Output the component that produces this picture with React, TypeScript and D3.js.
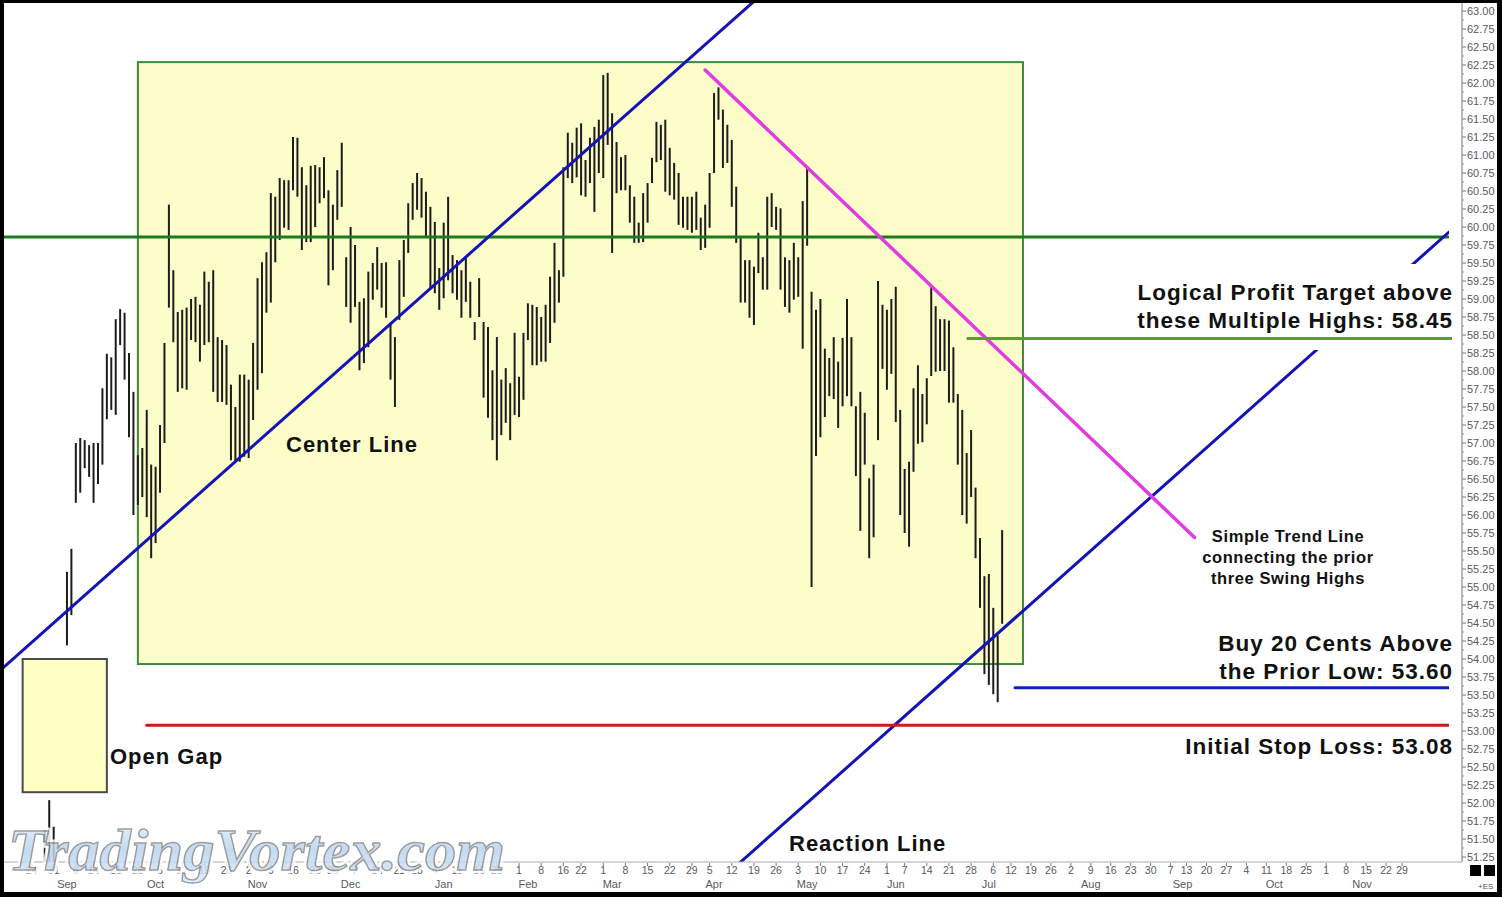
import React from "react";
import * as d3 from "d3";

// ---------- calendar data ----------
const HOLIDAYS = ["2009-09-07","2009-11-26","2009-12-25","2010-01-01","2010-01-18","2010-02-15","2010-04-02","2010-05-31","2010-07-05","2010-09-06","2010-11-25"];
const CAL_START = "2009-08-03";
const CAL_END = "2010-12-31";
const INDEX_BASE = "2010-02-01";

// weekly tick dates (label = day of month)
const WEEK_TICKS = ["2009-08-24","2009-08-31","2009-09-08","2009-09-14","2009-09-21","2009-09-28","2009-10-05","2009-10-12","2009-10-19","2009-10-26","2009-11-02","2009-11-09","2009-11-16","2009-11-23","2009-11-30","2009-12-07","2009-12-14","2009-12-21","2009-12-28","2010-01-04","2010-01-11","2010-01-19","2010-01-25","2010-02-01","2010-02-08","2010-02-16","2010-02-22","2010-03-01","2010-03-08","2010-03-15","2010-03-22","2010-03-29","2010-04-05","2010-04-12","2010-04-19","2010-04-26","2010-05-03","2010-05-10","2010-05-17","2010-05-24","2010-06-01","2010-06-07","2010-06-14","2010-06-21","2010-06-28","2010-07-06","2010-07-12","2010-07-19","2010-07-26","2010-08-02","2010-08-09","2010-08-16","2010-08-23","2010-08-30","2010-09-07","2010-09-13","2010-09-20","2010-09-27","2010-10-04","2010-10-11","2010-10-18","2010-10-25","2010-11-01","2010-11-08","2010-11-15","2010-11-22","2010-11-29"];
const MONTH_LABELS = ["Sep","Oct","Nov","Dec","Jan","Feb","Mar","Apr","May","Jun","Jul","Aug","Sep","Oct","Nov"];
const MONTH_LABEL_DATES = ["2009-09-03","2009-10-02","2009-11-04","2009-12-04","2010-01-06","2010-02-03","2010-03-03","2010-04-06","2010-05-05","2010-06-03","2010-07-02","2010-08-09","2010-09-10","2010-10-13","2010-11-12"];

// ---------- price bars ----------
const BAR_START = "2009-08-27";
const BAR_HIGH: (number | null)[] = [
  51.63, 52.04, 51.67, null, null, 55.21, 55.53,
  57.00, 57.07, 57.04, 56.97, 57.00, 57.00, 57.76, 58.24, 58.19, 58.72,
  58.86, 58.81, 58.25, 57.71, 56.83, 56.93, 57.46, 56.70, 56.67, 57.25,
  58.39, 60.31, 59.40, 58.82, 58.85, 58.88, 59.00, 59.03, 58.92, 59.38,
  59.24, 59.40, 58.47, 58.43, 58.36, 57.81, 57.50, 57.95, 57.95, 57.88,
  58.39, 59.29, 59.51, 59.65, 60.47, 60.42, 60.68, 60.65, 60.65, 61.25,
  61.24, 60.83, 60.58, 60.85, 60.86, 60.83, 60.97, 60.51, 60.31, 60.79,
  61.17, 59.58, 60.00, 59.75, 58.96, 59.01, 59.38, 59.50, 59.72, 59.50,
  59.51, 58.67, 58.47, 59.54, 59.82, 60.33, 60.61, 60.75, 60.68, 60.49,
  60.28, 60.07, 59.43, 60.06, 60.42, 59.61, 59.54, 59.40, 59.57, 59.24,
  58.68, 59.29, 58.68, 58.61, 58.01, 58.47, 57.88, 58.04, 57.83, 58.53,
  57.92, 58.53, 58.94, 58.92, 58.89, 58.75, 58.92, 59.31, 59.78, 59.40,
  60.83, 61.31, 61.17, 61.38, 61.44, 60.93, 61.24, 61.39, 61.49, 62.11,
  62.14, 61.58, 61.18, 60.97, 61.00, 60.58, 60.42, 60.06, 60.47, 60.61,
  60.96, 61.46, 61.42, 61.49, 61.10, 60.89, 60.75, 60.42, 60.42, 60.42,
  60.49, 60.13, 60.31, 60.75, 61.86, 61.94, 61.63, 61.42, 61.21, 60.56,
  59.86, 59.54, 59.54, 59.45, 59.92, 59.58, 60.42, 60.47, 60.28, 60.26,
  59.58, 59.54, 59.78, 59.58, 60.36, 60.81, 59.10, 58.85, 59.00, 58.31,
  58.18, 58.47, 58.13, 58.46, 59.00, 58.47, 57.51, 57.71, 57.42, 56.51,
  56.70, 59.25, 58.92, 58.85, 59.00, 59.17, 57.46, 56.64, 56.74, 57.76,
  58.08, 57.68, 57.90, 59.17, 58.90, 58.72, 58.72, 58.70, 58.33, 57.68,
  57.46, 56.86, 57.18, 56.38, 55.68, 55.15, 55.18, 54.71, 54.33, 55.79,
];
const BAR_LOW: (number | null)[] = [
  51.05, 51.10, 51.05, null, null, 54.19, 54.61,
  56.17, 56.31, 56.65, 56.53, 56.17, 56.43, 56.70, 57.33, 57.46, 57.39,
  58.36, 57.88, 57.08, 56.00, 56.14, 56.25, 55.97, 55.40, 55.61, 56.31,
  57.00, 58.88, 58.40, 57.71, 57.76, 57.74, 58.43, 58.40, 58.13, 58.36,
  58.40, 57.71, 57.57, 57.57, 57.53, 56.76, 56.74, 56.74, 56.81, 56.79,
  57.32, 57.74, 57.97, 58.81, 58.95, 59.51, 59.82, 59.99, 59.96, 60.51,
  60.42, 59.68, 59.79, 59.79, 60.00, 60.33, 60.40, 59.19, 59.40, 60.10,
  60.28, 58.89, 58.67, 58.89, 58.01, 58.11, 58.33, 58.99, 59.13, 58.88,
  58.74, 57.88, 57.50, 58.71, 59.03, 59.64, 60.10, 60.24, 60.13, 59.86,
  59.15, 59.08, 58.85, 59.01, 59.26, 59.08, 58.99, 58.74, 58.96, 58.74,
  58.43, 58.75, 57.63, 57.35, 57.04, 56.76, 57.11, 57.28, 57.04, 57.39,
  57.36, 57.60, 58.43, 58.08, 58.08, 58.13, 58.13, 58.39, 58.67, 58.95,
  59.31, 60.68, 60.61, 60.69, 60.44, 60.42, 60.61, 60.21, 60.75, 60.68,
  61.14, 59.64, 60.47, 60.51, 60.51, 60.06, 59.78, 59.78, 59.79, 60.06,
  60.61, 60.90, 60.93, 60.49, 60.44, 60.38, 60.03, 59.99, 59.96, 59.92,
  59.96, 59.68, 59.71, 59.99, 60.75, 61.49, 60.82, 60.89, 60.28, 59.78,
  58.95, 58.95, 58.74, 58.64, 59.36, 59.13, 59.13, 60.00, 59.96, 59.13,
  58.89, 58.81, 58.99, 59.03, 58.31, 59.74, 55.00, 56.82, 57.08, 57.36,
  57.65, 57.61, 57.21, 57.51, 57.65, 57.51, 56.54, 55.78, 56.70, 55.40,
  55.69, 57.04, 58.03, 57.74, 57.96, 57.29, 56.00, 55.75, 55.56, 56.60,
  56.99, 57.01, 57.26, 57.93, 57.99, 58.00, 58.00, 57.56, 57.56, 56.70,
  56.00, 55.88, 56.25, 55.40, 54.71, 53.79, 53.64, 53.51, 53.40, 54.49,
];

// ---------- annotations (date, price) ----------
const CENTER_LINE: [string, number][] = [["2009-09-28", 55.54], ["2010-03-25", 62.26]];
const REACTION_LINE: [string, number][] = [["2010-04-14", 51.18], ["2010-07-08", 54.41]];
const SWING_LINE: [string, number][] = [["2010-04-01", 62.18], ["2010-06-14", 59.24]];
const SWING_LINE_END = "2010-09-15";
const ZONE_BOX = { from: "2009-09-28", to: "2010-07-15", top: 62.29, bottom: 53.93 };
const GAP_BOX = { from: "2009-08-20", to: "2009-09-17", top: 54.0, bottom: 52.15 };
const MID_LEVEL = 59.86;
const PROFIT_TARGET = { price: 58.45, from: "2010-06-25" };
const BUY_LEVEL = { price: 53.6, from: "2010-07-13" };
const STOP_LEVEL = { price: 53.08, from: "2009-09-30" };
const Y_MIN = 51.25, Y_MAX = 63.0, Y_STEP = 0.25;

// ---------- helpers ----------
function iso(d: Date) { return d.toISOString().slice(0, 10); }
function buildCalendar() {
  const hol = new Set(HOLIDAYS);
  const days: string[] = [];
  const d = new Date(CAL_START + "T00:00:00Z");
  const end = new Date(CAL_END + "T00:00:00Z");
  while (d <= end) {
    const wd = d.getUTCDay();
    const s = iso(d);
    if (wd !== 0 && wd !== 6 && !hol.has(s)) days.push(s);
    d.setUTCDate(d.getUTCDate() + 1);
  }
  const base = days.indexOf(INDEX_BASE);
  const idx = new Map<string, number>();
  days.forEach((s, i) => idx.set(s, i - base));
  return idx;
}

const W = 1502, H = 897;
const PL = 4, PR = 1461, PT = 3, PB = 862;

export default function App() {
  const idx = buildCalendar();
  const di = (s: string) => idx.get(s) as number;
  const x = d3.scaleLinear()
    .domain([di(WEEK_TICKS[0]), di("2010-07-12"), di(WEEK_TICKS[WEEK_TICKS.length - 1])])
    .range([31.5, 1011, 1402]);
  const xd = (s: string) => x(di(s));
  const y = d3.scaleLinear().domain([Y_MIN, Y_MAX]).range([857, 11]);

  const start = di(BAR_START);
  const bars = BAR_HIGH.map((h, i) => ({ i: start + i, h, l: BAR_LOW[i] }))
    .filter(b => b.h != null && b.l != null);

  const ext = (pts: [string, number][], x0: number, x1: number) => {
    const ax = xd(pts[0][0]), ay = y(pts[0][1]);
    const bx = xd(pts[1][0]), by = y(pts[1][1]);
    const m = (by - ay) / (bx - ax);
    return { x1: x0, y1: ay + m * (x0 - ax), x2: x1, y2: ay + m * (x1 - ax) };
  };
  const center = ext(CENTER_LINE, -50, 1000);
  const reaction = ext(REACTION_LINE, 600, 1449);
  const swing = ext(SWING_LINE, xd(SWING_LINE[0][0]), xd(SWING_LINE_END));

  const yTicks = d3.range(0, Math.round((Y_MAX - Y_MIN) / Y_STEP) + 1).map(k => Y_MIN + k * Y_STEP);
  const yMinor = d3.range(0, yTicks.length - 1).map(k => Y_MIN + (k + 0.5) * Y_STEP);
  const fmt = d3.format(".2f");

  const bold = { fontFamily: "'Liberation Sans', Arial, sans-serif", fontWeight: 700, fill: "#111" } as any;
  const axisFont = { fontFamily: "'Liberation Sans', Arial, sans-serif", fill: "#5a5a5a" } as any;

  return (
    <svg width={W} height={H} style={{ position: "absolute", left: 0, top: 0, display: "block" }}>
      <defs>
        <clipPath id="plot"><rect x={PL} y={PT} width={PR - PL} height={PB - PT} /></clipPath>
        <clipPath id="lines"><rect x={PL} y={PT} width={1449 - PL} height={PB - PT} /></clipPath>
        <linearGradient id="wm" x1="0" y1="0" x2="0" y2="1">
          <stop offset="0" stopColor="#e8f2fc" />
          <stop offset="0.5" stopColor="#b9d5f2" />
          <stop offset="1" stopColor="#dceaf8" />
        </linearGradient>
      </defs>
      <rect x={0} y={0} width={W} height={H} fill="#000" />
      <rect x={4} y={3} width={1493} height={889} fill="#fff" />

      {/* zones */}
      <rect x={xd(GAP_BOX.from)} y={y(GAP_BOX.top)} width={xd(GAP_BOX.to) - xd(GAP_BOX.from)}
        height={y(GAP_BOX.bottom) - y(GAP_BOX.top)} fill="#ffffc4" stroke="#4a4a4a" strokeWidth={2} />
      <rect x={xd(ZONE_BOX.from)} y={y(ZONE_BOX.top)} width={xd(ZONE_BOX.to) - xd(ZONE_BOX.from)}
        height={y(ZONE_BOX.bottom) - y(ZONE_BOX.top)} fill="#fdfdc9" stroke="#3d8b3d" strokeWidth={2} />

      {/* bars */}
      <g clipPath="url(#plot)">
        {bars.map(b => (
          <line key={b.i} x1={x(b.i)} x2={x(b.i)} y1={y(b.h as number)} y2={y(b.l as number)} stroke="#1c1c1c" strokeWidth={2} />
        ))}
      </g>

      {/* lines */}
      <g clipPath="url(#lines)" strokeLinecap="round">
        <line x1={PL} x2={1448} y1={y(MID_LEVEL)} y2={y(MID_LEVEL)} stroke="#1f7a1f" strokeWidth={3} />
        <line {...center} stroke="#1414b4" strokeWidth={3} />
        <line {...reaction} stroke="#1414b4" strokeWidth={3} />
        <line {...swing} stroke="#e03ce0" strokeWidth={3.5} />
        <line x1={xd(STOP_LEVEL.from)} x2={1452} y1={y(STOP_LEVEL.price)} y2={y(STOP_LEVEL.price)} stroke="#d01818" strokeWidth={3} />
        <line x1={xd(BUY_LEVEL.from)} x2={1452} y1={y(BUY_LEVEL.price)} y2={y(BUY_LEVEL.price)} stroke="#1020c0" strokeWidth={3} />
      </g>

      {/* profit target label with backing */}
      <rect x={1130} y={264} width={326} height={86} fill="#fff" />
      <line x1={xd(PROFIT_TARGET.from)} x2={1452} y1={y(PROFIT_TARGET.price)} y2={y(PROFIT_TARGET.price)} stroke="#5e9c2e" strokeWidth={3} />

      <text {...bold} fontSize={22.5} letterSpacing={1} textAnchor="end" x={1453} y={300}>Logical Profit Target above</text>
      <text {...bold} fontSize={22.5} letterSpacing={1} textAnchor="end" x={1453} y={328}>these Multiple Highs: 58.45</text>
      <text {...bold} fontSize={22.5} letterSpacing={1} textAnchor="end" x={1453} y={651}>Buy 20 Cents Above</text>
      <text {...bold} fontSize={22.5} letterSpacing={1} textAnchor="end" x={1453} y={679}>the Prior Low: 53.60</text>
      <text {...bold} fontSize={22.5} letterSpacing={1} textAnchor="end" x={1453} y={754}>Initial Stop Loss: 53.08</text>
      <text {...bold} fontSize={16.5} letterSpacing={0.6} textAnchor="middle" x={1288} y={542}>Simple Trend Line</text>
      <text {...bold} fontSize={16.5} letterSpacing={0.6} textAnchor="middle" x={1288} y={563}>connecting the prior</text>
      <text {...bold} fontSize={16.5} letterSpacing={0.6} textAnchor="middle" x={1288} y={584}>three Swing Highs</text>
      <text {...bold} fontSize={22} letterSpacing={1} x={286} y={452}>Center Line</text>
      <text {...bold} fontSize={22} letterSpacing={1} x={110} y={764}>Open Gap</text>
      <text {...bold} fontSize={22} letterSpacing={1} x={789} y={851}>Reaction Line</text>

      {/* right axis */}
      <line x1={1462} x2={1462} y1={PT} y2={PB} stroke="#777" strokeWidth={1} />
      {yTicks.map(v => (
        <g key={"yt" + v}>
          <line x1={1462} x2={1466} y1={y(v)} y2={y(v)} stroke="#777" />
          <text {...axisFont} fontSize={11} x={1467} y={y(v)} dominantBaseline="central">{fmt(v)}</text>
        </g>
      ))}
      {yMinor.map(v => (
        <line key={"ym" + v} x1={1462} x2={1464} y1={y(v)} y2={y(v)} stroke="#999" />
      ))}

      {/* bottom axis */}
      <line x1={PL} x2={1462} y1={PB} y2={PB} stroke="#aaa" strokeWidth={1} />
      {WEEK_TICKS.map(s => (
        <g key={"xt" + s}>
          <line x1={xd(s)} x2={xd(s)} y1={PB + 1} y2={PB + 4} stroke="#777" />
          <text {...axisFont} fontSize={10.5} textAnchor="middle" x={xd(s)} y={874}>{String(+s.slice(8, 10))}</text>
        </g>
      ))}
      {MONTH_LABELS.map((m, k) => (
        <text key={"m" + k} {...axisFont} fontSize={11} textAnchor="middle" x={xd(MONTH_LABEL_DATES[k])} y={888}>{m}</text>
      ))}
      <rect x={1470} y={865} width={11} height={11} fill="#000" />
      <rect x={1484} y={865} width={11} height={11} fill="#000" />
      <text {...axisFont} fontSize={8} x={1478} y={889}>+ES</text>

      {/* watermark */}
      <g opacity={0.85} fontFamily="'Liberation Serif', 'DejaVu Serif', serif" fontStyle="italic" fontWeight={700} fontSize={60}>
        <text x={8} y={870} textLength={497} lengthAdjust="spacingAndGlyphs" fill="none" stroke="#fff" strokeWidth={7} strokeLinejoin="round">TradingVortex.com</text>
        <text x={8} y={870} textLength={497} lengthAdjust="spacingAndGlyphs" fill="url(#wm)" stroke="#8c8c8c" strokeWidth={1.4}>TradingVortex.com</text>
      </g>
    </svg>
  );
}
